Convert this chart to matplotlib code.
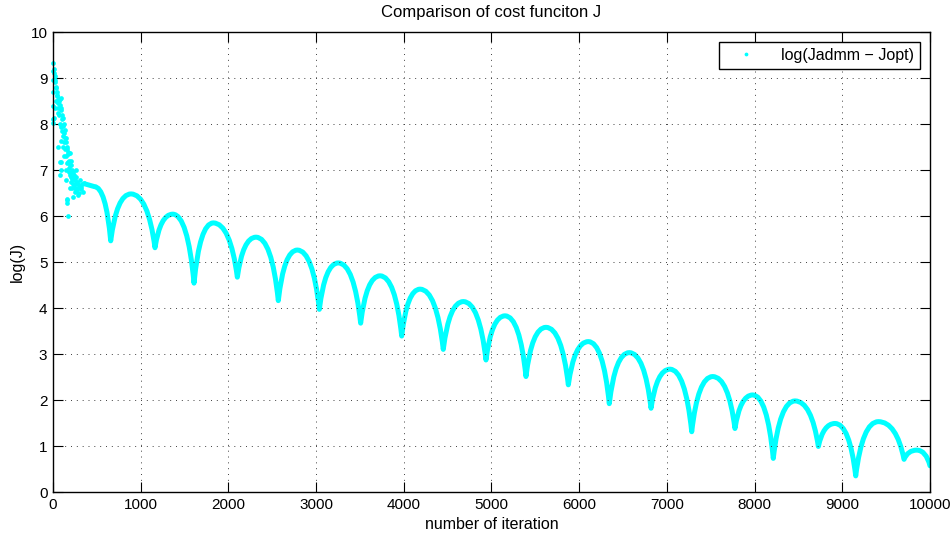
import matplotlib
matplotlib.use('Agg')
import matplotlib.pyplot as plt
from matplotlib.path import Path
from matplotlib.patches import PathPatch

plt.rcParams['font.family'] = ['Liberation Sans', 'DejaVu Sans']
plt.rcParams['font.size'] = 11

# noisy first iterations
early_x = [0, 0, 0, 0, 0, 0, 0, 8, 15, 19, 22, 27, 30, 38, 40, 45, 49, 52, 57, 60, 65, 70, 76, 80, 87, 90,
           95, 100, 105, 114, 110, 120, 125, 133, 140, 145, 152, 155, 163, 170, 175, 180, 190, 195, 200,
           209, 215, 220, 228, 235, 240, 247, 255, 260, 266, 275, 285, 290, 304, 310, 323, 330, 342, 350,
           27, 11, 95, 95, 114, 87, 87, 171, 190, 152, 190, 247, 163, 163, 171, 232, 156, 61, 80, 80,
           130, 145, 200, 220, 265, 300, 280,
           35, 55, 70, 85, 105, 118, 128, 138, 150, 160, 178, 185, 205, 212, 225, 238, 252, 270, 295, 318]
early_y = [9.32, 9.15, 8.95, 8.7, 8.4, 8.1, 8.02, 9.2, 9.1, 9.05, 8.95, 8.92, 8.8, 8.78, 8.6, 8.7, 8.63,
           8.45, 8.52, 8.35, 8.55, 8.5, 8.41, 8.55, 8.56, 8.3, 8.34, 8.1, 8.2, 8.12, 7.95, 8.0, 7.8, 7.87,
           7.7, 7.6, 7.69, 7.45, 7.51, 7.35, 7.4, 7.2, 7.36, 7.1, 7.2, 7.11, 6.95, 7.0, 6.96, 6.8, 6.9,
           6.78, 6.7, 6.85, 7.0, 6.75, 6.6, 6.7, 6.78, 6.65, 6.64, 6.7, 6.53, 6.72,
           8.34, 8.12, 7.94, 7.62, 7.51, 7.18, 7.0, 7.18, 6.89, 6.78, 6.6, 6.53, 6.35, 6.28, 5.99, 6.42,
           6.38, 7.5, 7.18, 6.9, 7.3, 7.0, 6.75, 6.6, 6.55, 6.5, 6.45,
           8.5, 8.25, 8.2, 8.0, 7.85, 7.75, 7.6, 7.45, 7.3, 7.15, 7.05, 6.95, 6.85, 6.8, 6.7, 6.62, 6.6,
           6.58, 6.62, 6.58]

# smooth part: start, peaks (tops of the arcs), troughs (cusps), end
start_x, start_y = 360, 6.70
peak_x = [470, 889, 1365, 1828, 2315, 2786, 3253, 3729, 4185, 4679, 5154, 5621, 6104, 6571, 7035,
          7522, 7978, 8461, 8917, 9411, 9848]
peak_y = [6.64, 6.48, 6.04, 5.85, 5.54, 5.26, 4.98, 4.70, 4.41, 4.14, 3.83, 3.58, 3.27, 3.03, 2.67,
          2.51, 2.11, 1.98, 1.49, 1.53, 0.91]
trough_x = [658, 1163, 1608, 2102, 2569, 3037, 3508, 3976, 4450, 4937, 5393, 5876, 6343, 6819, 7283,
            7776, 8213, 8727, 9153, 9704]
trough_y = [5.46, 5.31, 4.54, 4.67, 4.16, 3.97, 3.67, 3.39, 3.10, 2.87, 2.51, 2.33, 1.92, 1.82, 1.31,
            1.38, 0.73, 0.99, 0.35, 0.71]
end_x, end_y = 10000, 0.57

xticks = list(range(0, 10001, 1000))
yticks = list(range(0, 11))

fig = plt.figure(figsize=(9.53, 5.35), dpi=100)
ax = fig.add_axes([53 / 953, 1 - 492 / 535, 877 / 953, 460 / 535])

cyan = '#00ffff'
a = 0.3  # how far the bezier control sits from the cusp
verts = [(start_x, start_y), (peak_x[0], peak_y[0])]
codes = [Path.MOVETO, Path.LINETO]
for i in range(len(trough_x)):
    tx, ty = trough_x[i], trough_y[i]
    px, py = peak_x[i], peak_y[i]
    nx, ny = peak_x[i + 1], peak_y[i + 1]
    verts += [(tx - a * (tx - px), py), (tx, ty)]
    verts += [(tx + a * (nx - tx), ny), (nx, ny)]
    codes += [Path.CURVE3] * 4
px, py = peak_x[-1], peak_y[-1]
verts += [(end_x - a * (end_x - px), py), (end_x, end_y)]
codes += [Path.CURVE3] * 2
ax.add_patch(PathPatch(Path(verts, codes), fill=False, edgecolor=cyan, lw=3.6,
                       capstyle='round', joinstyle='round', clip_on=True))

ax.plot(early_x, early_y, 'o', color=cyan, ms=3.4, mew=0, label='log(Jadmm \u2212 Jopt)', clip_on=False)

ax.set_xlim(0, 10000)
ax.set_ylim(0, 10)
ax.set_xticks(xticks)
ax.set_yticks(yticks)
ax.tick_params(direction='in', length=7, width=0.8, top=True, right=True, labelsize=11, pad=4)
for s in ax.spines.values():
    s.set_linewidth(1.0)
ax.grid(True, color='0.25', lw=0.7, linestyle=(0, (1, 5)))

ax.set_title('Comparison of cost funciton J', fontsize=12, pad=11)
ax.set_xlabel('number of iteration', fontsize=11.5, labelpad=4)
ax.set_ylabel('log(J)', fontsize=11.5, labelpad=4)

leg = ax.legend(loc='upper right', numpoints=1, markerscale=0.8, handlelength=2.6, handletextpad=0.9,
                borderaxespad=0.6, fancybox=False, edgecolor='black', framealpha=1, fontsize=11.5)
leg.get_frame().set_linewidth(1.0)

fig.savefig('out.png', dpi=100)
